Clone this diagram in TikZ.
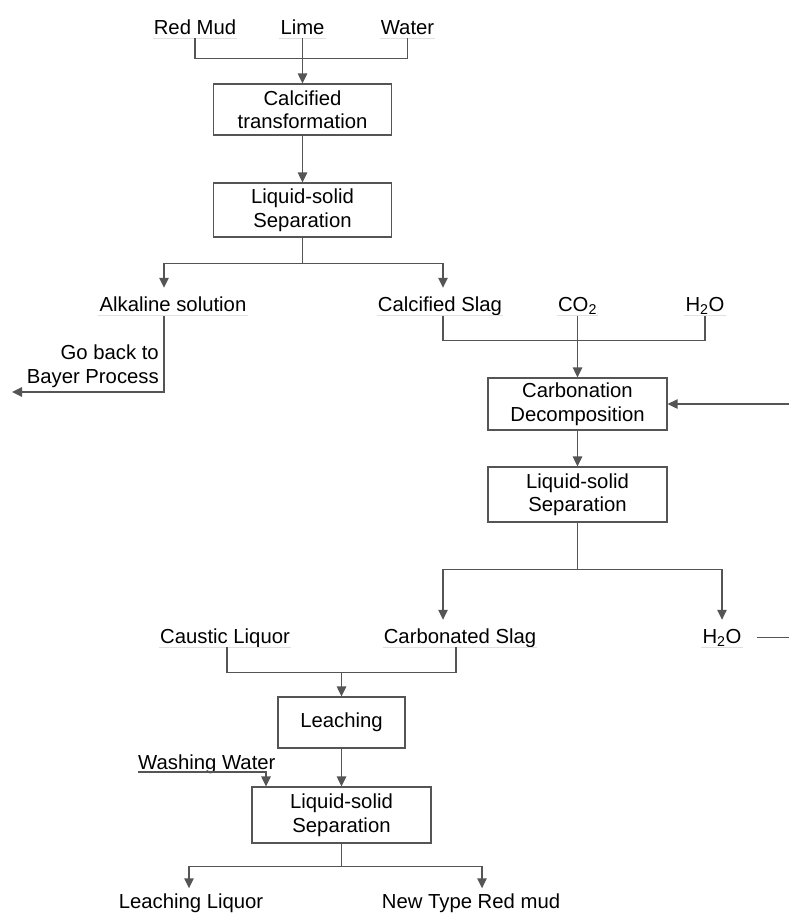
\documentclass[tikz,border=0pt]{standalone}
\usepackage{fontspec}
\setmainfont{Liberation Sans}
\usetikzlibrary{arrows.meta,calc}
\definecolor{ln}{HTML}{555555}
\definecolor{ul}{HTML}{E0E0E0}
\begin{document}
\begin{tikzpicture}[x=1pt,y=-1pt,
  every node/.style={font=\fontsize{20.3}{23.5}\selectfont, text=black},
  line/.style={draw=ln, line width=1.4pt},
  arr/.style={line, -{Triangle[length=10pt,width=9.5pt]}},
  box/.style={draw=ln, line width=1.3pt, align=center, inner sep=0pt},
  lblp/.style={inner xsep=1pt, inner ysep=0pt, text height=15pt, text depth=4pt},
  lbl/.style={lblp, append after command={(\tikzlastnode.south west) edge[draw=ul, line width=1pt] (\tikzlastnode.south east)}},
]
\useasboundingbox (0,0) rectangle (789,913);

% top inputs
\node[lbl] (rm) at (195,28.5) {Red Mud};
\node[lbl] (li) at (302.5,28.5) {Lime};
\node[lbl] (wa) at (407.5,28.5) {Water};
\node[box, minimum width=178pt, minimum height=51pt] (b1) at (302.5,109.5) {Calcified\\transformation};
\node[box, minimum width=178pt, minimum height=54pt] (b2) at (302.5,210) {Liquid-solid\\Separation};
\draw[line] (rm.south) -- ++(0,20) -| (wa.south);
\draw[arr] (li.south) -- (b1.north);
\draw[arr] (b1) -- (b2);

% first split
\node[lbl] (al) at (173,306) {Alkaline solution};
\node[lbl] (cs) at (440,306) {Calcified Slag};
\node[lbl] (co) at (577.5,306) {CO\textsubscript{2}};
\node[lbl] (hw) at (705,306) {H\textsubscript{2}O};
\draw[arr, shorten >=8.5pt] (b2.south) -- ++(0,26) -| ([xshift=-9pt]al.north);
\draw[arr, shorten >=8.5pt] (b2.south) -- ++(0,26) -| ([xshift=3pt]cs.north);

% go back to Bayer
\node[align=right, anchor=base east, inner sep=0pt] (gb) at (159,383) {Go back to\\Bayer Process};
\coordinate (gbend) at (12,392);
\draw[arr] ([xshift=-9pt]al.south) |- (gbend);

% carbonation
\node[box, minimum width=179pt, minimum height=52pt] (b3) at (577.5,404) {Carbonation\\Decomposition};
\node[box, minimum width=179pt, minimum height=55pt] (b4) at (577.5,494.5) {Liquid-solid\\Separation};
\draw[line] ([xshift=3pt]cs.south) -- ++(0,24.5) -| (hw.south);
\draw[arr] (co.south) -- (b3.north);
\coordinate (rin) at (789,404);
\draw[arr] (rin) -- (b3.east);
\draw[arr] (b3) -- (b4);

% second split
\node[lbl] (cl) at (225,637.5) {Caustic Liquor};
\node[lbl] (cb) at (460,637.5) {Carbonated Slag};
\node[lbl] (h2) at (722,637.5) {H\textsubscript{2}O};
\draw[arr, shorten >=8pt] (b4.south) -- ++(0,47) -| ([xshift=-17pt]cb.north);
\draw[arr, shorten >=8pt] (b4.south) -- ++(0,47) -| (h2.north);
\coordinate (rout) at (789,636);
\draw[line] ([xshift=14pt]h2.east) -- (h2.east -| rout);

% leaching
\node[box, minimum width=127pt, minimum height=51pt] (b5) at (341.5,722.5) {Leaching};
\node[box, minimum width=179pt, minimum height=56pt] (b6) at (341.5,815) {Liquid-solid\\Separation};
\draw[line] ([xshift=2pt]cl.south) -- ++(0,25) -| ([xshift=-4pt]cb.south);
\coordinate (m5) at (341.5,672);
\draw[arr] (m5) -- (b5.north);
\draw[arr] (b5) -- (b6);

% washing water
\node[anchor=base west, inner sep=0pt] (ww) at (138,769) {Washing Water};
\draw[arr] ([yshift=1.5pt]ww.south west) -| ([xshift=-75.5pt]b6.north);

% outputs
\node[lblp] (ll) at (191,903) {Leaching Liquor};
\node[lblp] (nt) at (471,903) {New Type Red mud};
\draw[arr, shorten >=5pt] (b6.south) -- ++(0,23) -| ([xshift=-2pt]ll.north);
\draw[arr, shorten >=5pt] (b6.south) -- ++(0,23) -| ([xshift=11pt]nt.north);
\end{tikzpicture}
\end{document}
